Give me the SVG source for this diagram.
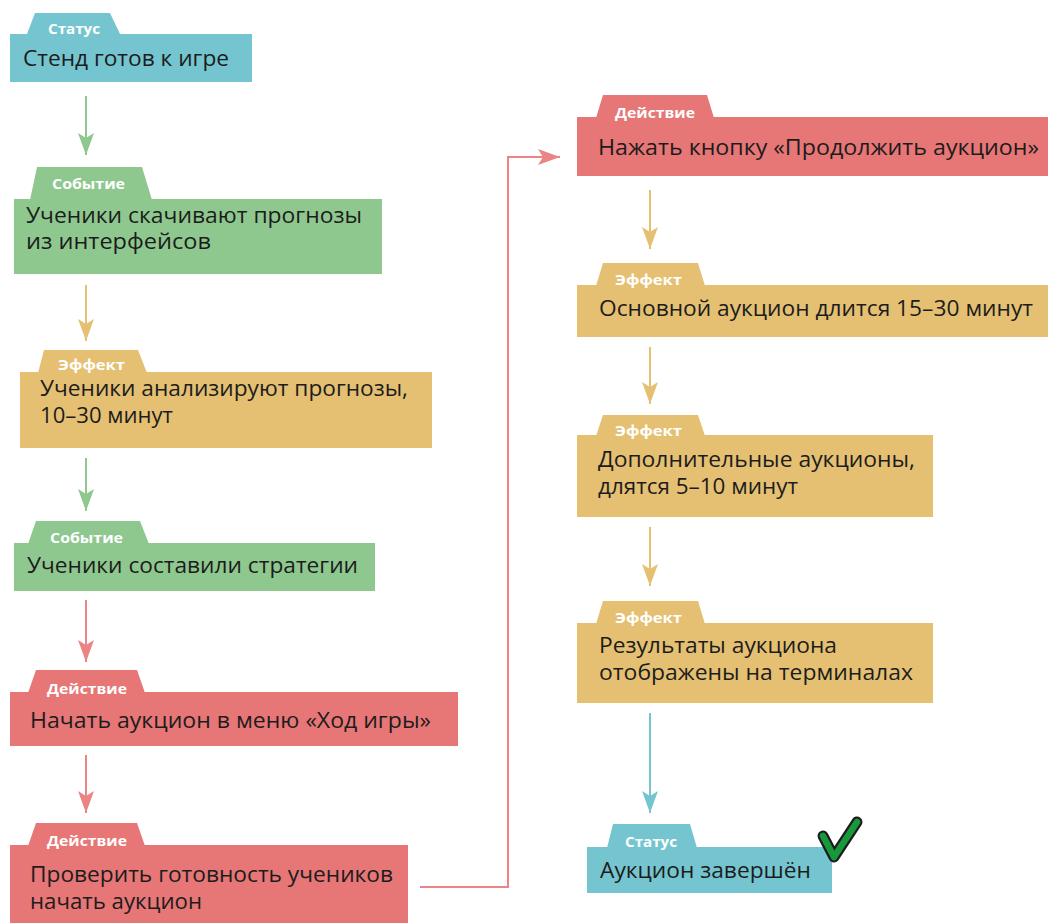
<svg xmlns="http://www.w3.org/2000/svg" width="1048" height="923" viewBox="0 0 1048 923">
  <defs>
    <style>
      .txt { font-family: "Open Sans", "Noto Sans", "DejaVu Sans", sans-serif; font-size: 21px; fill: #1c1c1c; }
      .lbl { font-family: "Open Sans", "Noto Sans", "DejaVu Sans", sans-serif; font-size: 14px; font-weight: bold; fill: #ffffff; }
      .status { fill: #74c5cf; }
      .event { fill: #8ec88f; }
      .effect { fill: #e5c072; }
      .action { fill: #e77676; }
      .ln { fill: none; stroke-width: 2; }
      .ln-green { stroke: #8ec88f; }
      .ln-yellow { stroke: #e5c072; }
      .ln-red { stroke: #eb8585; }
      .ln-cyan { stroke: #74c5cf; }
    </style>
    <marker id="ah-green" markerUnits="userSpaceOnUse" markerWidth="24" markerHeight="18" refX="22" refY="9" orient="auto">
      <path d="M0,1 L22,9 L0,17 L5,9 Z" fill="#8ec88f"/>
    </marker>
    <marker id="ah-yellow" markerUnits="userSpaceOnUse" markerWidth="24" markerHeight="18" refX="22" refY="9" orient="auto">
      <path d="M0,1 L22,9 L0,17 L5,9 Z" fill="#e5c072"/>
    </marker>
    <marker id="ah-red" markerUnits="userSpaceOnUse" markerWidth="24" markerHeight="18" refX="22" refY="9" orient="auto">
      <path d="M0,1 L22,9 L0,17 L5,9 Z" fill="#eb8585"/>
    </marker>
    <marker id="ah-cyan" markerUnits="userSpaceOnUse" markerWidth="24" markerHeight="18" refX="22" refY="9" orient="auto">
      <path d="M0,1 L22,9 L0,17 L5,9 Z" fill="#74c5cf"/>
    </marker>
  </defs>

  <rect width="1048" height="923" fill="#ffffff"/>

  <!-- connectors -->
  <g id="connectors">
    <line class="ln ln-green" x1="86" y1="96" x2="86" y2="155" marker-end="url(#ah-green)"/>
    <line class="ln ln-yellow" x1="86" y1="285" x2="86" y2="341" marker-end="url(#ah-yellow)"/>
    <line class="ln ln-green" x1="86" y1="458" x2="86" y2="511" marker-end="url(#ah-green)"/>
    <line class="ln ln-red" x1="86" y1="600" x2="86" y2="662" marker-end="url(#ah-red)"/>
    <line class="ln ln-red" x1="86" y1="755" x2="86" y2="813" marker-end="url(#ah-red)"/>
    <polyline class="ln ln-red" points="420,887 508,887 508,157 560,157" marker-end="url(#ah-red)"/>
    <line class="ln ln-yellow" x1="650" y1="190" x2="650" y2="249" marker-end="url(#ah-yellow)"/>
    <line class="ln ln-yellow" x1="650" y1="347" x2="650" y2="404" marker-end="url(#ah-yellow)"/>
    <line class="ln ln-yellow" x1="650" y1="527" x2="650" y2="586" marker-end="url(#ah-yellow)"/>
    <line class="ln ln-cyan" x1="650" y1="713" x2="650" y2="813" marker-end="url(#ah-cyan)"/>
  </g>

  <!-- left column -->
  <g id="n-stand-ready">
    <path class="status" d="M27,34 L35,13 L110,13 L120,34 Z"/>
    <rect class="status" x="10" y="34" width="242" height="48"/>
    <text class="lbl" x="48" y="34" textLength="52" lengthAdjust="spacingAndGlyphs">Статус</text>
    <text class="txt" x="23" y="66" textLength="206" lengthAdjust="spacingAndGlyphs">Стенд готов к игре</text>
  </g>

  <g id="n-download">
    <path class="event" d="M30,200 L37,167 L142,167 L152,200 Z"/>
    <rect class="event" x="14" y="199" width="368" height="75"/>
    <text class="lbl" x="52" y="189" textLength="73" lengthAdjust="spacingAndGlyphs">Событие</text>
    <text class="txt" x="26" y="223" textLength="336" lengthAdjust="spacingAndGlyphs">Ученики скачивают прогнозы</text>
    <text class="txt" x="26" y="249" textLength="185" lengthAdjust="spacingAndGlyphs">из интерфейсов</text>
  </g>

  <g id="n-analyse">
    <path class="effect" d="M38,373 L44,350 L138,350 L147,373 Z"/>
    <rect class="effect" x="20" y="372" width="412" height="76"/>
    <text class="lbl" x="58" y="370" textLength="67" lengthAdjust="spacingAndGlyphs">Эффект</text>
    <text class="txt" x="40" y="396" textLength="368" lengthAdjust="spacingAndGlyphs">Ученики анализируют прогнозы,</text>
    <text class="txt" x="40" y="423" textLength="133" lengthAdjust="spacingAndGlyphs">10–30 минут</text>
  </g>

  <g id="n-strategies">
    <path class="event" d="M28,544 L36,521 L140,521 L149,544 Z"/>
    <rect class="event" x="14" y="543" width="361" height="48"/>
    <text class="lbl" x="50" y="543" textLength="73" lengthAdjust="spacingAndGlyphs">Событие</text>
    <text class="txt" x="27" y="573" textLength="331" lengthAdjust="spacingAndGlyphs">Ученики составили стратегии</text>
  </g>

  <g id="n-start-auction">
    <path class="action" d="M28,693 L36,670 L137,670 L145,693 Z"/>
    <rect class="action" x="10" y="692" width="448" height="54"/>
    <text class="lbl" x="47" y="694" textLength="80" lengthAdjust="spacingAndGlyphs">Действие</text>
    <text class="txt" x="30" y="728" textLength="401" lengthAdjust="spacingAndGlyphs">Начать аукцион в меню «Ход игры»</text>
  </g>

  <g id="n-check-ready">
    <path class="action" d="M28,846 L36,823 L137,823 L145,846 Z"/>
    <rect class="action" x="10" y="845" width="398" height="78"/>
    <text class="lbl" x="47" y="846" textLength="80" lengthAdjust="spacingAndGlyphs">Действие</text>
    <text class="txt" x="30" y="882" textLength="363" lengthAdjust="spacingAndGlyphs">Проверить готовность учеников</text>
    <text class="txt" x="30" y="909" textLength="172" lengthAdjust="spacingAndGlyphs">начать аукцион</text>
  </g>

  <!-- right column -->
  <g id="n-continue">
    <path class="action" d="M596,118 L603,95 L707,95 L714,118 Z"/>
    <rect class="action" x="577" y="117" width="471" height="59"/>
    <text class="lbl" x="615" y="118" textLength="80" lengthAdjust="spacingAndGlyphs">Действие</text>
    <text class="txt" x="598" y="155" textLength="441" lengthAdjust="spacingAndGlyphs">Нажать кнопку «Продолжить аукцион»</text>
  </g>

  <g id="n-main-auction">
    <path class="effect" d="M596,286 L603,263 L698,263 L705,286 Z"/>
    <rect class="effect" x="577" y="285" width="471" height="52"/>
    <text class="lbl" x="615" y="285" textLength="67" lengthAdjust="spacingAndGlyphs">Эффект</text>
    <text class="txt" x="599" y="316" textLength="434" lengthAdjust="spacingAndGlyphs">Основной аукцион длится 15–30 минут</text>
  </g>

  <g id="n-extra-auctions">
    <path class="effect" d="M596,436 L603,415 L698,415 L705,436 Z"/>
    <rect class="effect" x="577" y="435" width="356" height="82"/>
    <text class="lbl" x="615" y="436" textLength="67" lengthAdjust="spacingAndGlyphs">Эффект</text>
    <text class="txt" x="598" y="467" textLength="317" lengthAdjust="spacingAndGlyphs">Дополнительные аукционы,</text>
    <text class="txt" x="598" y="494" textLength="200" lengthAdjust="spacingAndGlyphs">длятся 5–10 минут</text>
  </g>

  <g id="n-results">
    <path class="effect" d="M596,624 L603,601 L698,601 L705,624 Z"/>
    <rect class="effect" x="577" y="623" width="356" height="80"/>
    <text class="lbl" x="615" y="623" textLength="67" lengthAdjust="spacingAndGlyphs">Эффект</text>
    <text class="txt" x="599" y="653" textLength="238" lengthAdjust="spacingAndGlyphs">Результаты аукциона</text>
    <text class="txt" x="599" y="680" textLength="314" lengthAdjust="spacingAndGlyphs">отображены на терминалах</text>
  </g>

  <g id="n-finished">
    <path class="status" d="M607,848 L613,824 L690,824 L697,848 Z"/>
    <rect class="status" x="587" y="847" width="245" height="46"/>
    <text class="lbl" x="625" y="847" textLength="52" lengthAdjust="spacingAndGlyphs">Статус</text>
    <text class="txt" x="600" y="878" textLength="211" lengthAdjust="spacingAndGlyphs">Аукцион завершён</text>
    <!-- done tick -->
    <g id="tick" fill="none" stroke-linecap="round" stroke-linejoin="round">
      <polyline points="823,836 834,857 857,822" stroke="#1d1d1d" stroke-width="11"/>
      <polyline points="823,836 834,857 857,822" stroke="#17983c" stroke-width="6.5"/>
    </g>
  </g>
</svg>
